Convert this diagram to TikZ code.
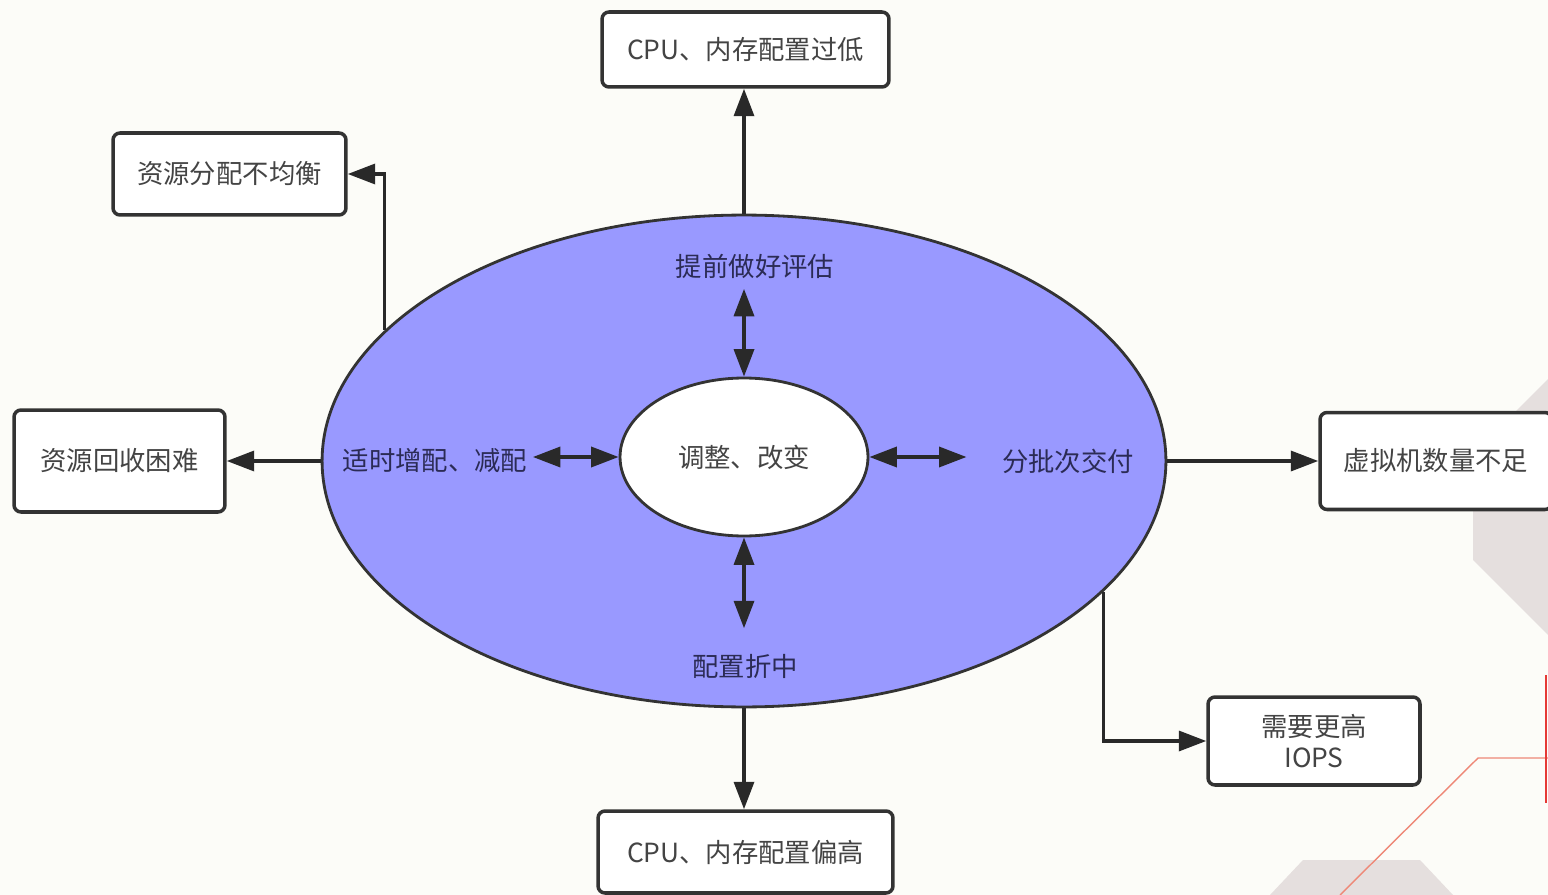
\documentclass[tikz,border=0pt]{standalone}
\usepackage{fontspec}
\newfontfamily\cjk{Noto Sans CJK SC}
\usetikzlibrary{shapes.geometric, arrows.meta, positioning}

\definecolor{paper}{HTML}{FCFCF8}
\definecolor{ringfill}{HTML}{9999FF}
\definecolor{boxline}{HTML}{333333}
\definecolor{boxtext}{HTML}{444444}
\definecolor{labeltext}{HTML}{2B2B55}
\definecolor{deco}{HTML}{E5DFDE}
\definecolor{decored}{HTML}{E53935}
\definecolor{decopink}{HTML}{EE8877}

\begin{document}
\begin{tikzpicture}[
         x=0.02cm, y=-0.02cm,
         >={Triangle[length=0.55cm, width=0.4cm]},
         txt/.style={font=\cjk\fontsize{15}{18}\selectfont},
         outcome/.style={txt, draw=boxline, line width=2pt, rounded corners=4pt, fill=white, text=boxtext, align=center},
         ring/.style={ellipse, draw=boxline, line width=1.6pt, inner sep=0pt},
         tactic/.style={txt, text=labeltext, inner sep=3pt},
         link/.style={->, draw=boxline!80!black, line width=2pt},
         swap/.style={<->, draw=boxline!80!black, line width=2pt}
      ]
         \useasboundingbox[fill=paper] (0,0) rectangle (1548,895);

         % Background shapes
         \fill[deco] (1548,379) -- (1473,454) -- (1473,560) -- (1548,635) -- cycle;
         \fill[deco] (1270,895) -- (1303,860) -- (1420,860) -- (1453,895) -- cycle;
         \draw[decopink, line width=0.8pt] (1340,895) -- (1478,758) -- (1548,758);
         \draw[decored, line width=1.6pt] (1546,675) -- (1546,803);

         % Rings
         \node[ring, fill=ringfill, minimum width=16.88cm, minimum height=9.84cm] (main) at (744,461) {};
         \node[ring, txt, text=boxtext, fill=white, minimum width=4.96cm, minimum height=3.16cm] (core) at (744,457) {调整、改变};

         % Labels inside the ring
         \node[tactic] (assess) at (755,266) {提前做好评估};
         \node[tactic] (adjust) at (435,461) {适时增配、减配};
         \node[tactic] (batch) at (1068,461) {分批次交付};
         \node[tactic] (balance) at (745,666) {配置折中};

         % Outcome boxes
         \node[outcome, minimum width=5.74cm, minimum height=1.5cm] (low) at (745.5,49.5) {CPU、内存配置过低};
         \node[outcome, minimum width=4.66cm, minimum height=1.64cm] (uneven) at (229.5,174) {资源分配不均衡};
         \node[outcome, minimum width=4.22cm, minimum height=2.04cm] (reclaim) at (119.5,461) {资源回收困难};
         \node[outcome, minimum width=4.64cm, minimum height=1.94cm] (vmcount) at (1436,461) {虚拟机数量不足};
         \node[outcome, minimum width=4.24cm, minimum height=1.76cm] (iops) at (1314,741) {需要更高\\IOPS};
         \node[outcome, minimum width=5.9cm, minimum height=1.64cm] (high) at (745.5,852) {CPU、内存配置偏高};

         % Arrows out of the ring
         \draw[link] (main.north) -- (main.north |- low.south);
         \draw[link] (main.160) |- (uneven.east);
         \draw[link] (main.west) -- (reclaim.east);
         \draw[link] (main.east) -- (vmcount.west);
         \draw[link] (main.-20) |- (iops.west);
         \draw[link] (main.south) -- (main.south |- high.north);

         % Arrows between core and labels
         \draw[swap, shorten <=0.1cm] (assess.south -| core.north) -- (core.north);
         \draw[swap] (adjust.east |- core.west) -- (core.west);
         \draw[swap, shorten >=0.6cm] (core.east) -- (batch.west |- core.east);
         \draw[swap, shorten >=0.4cm] (core.south) -- (balance.north -| core.south);
      \end{tikzpicture}
\end{document}
